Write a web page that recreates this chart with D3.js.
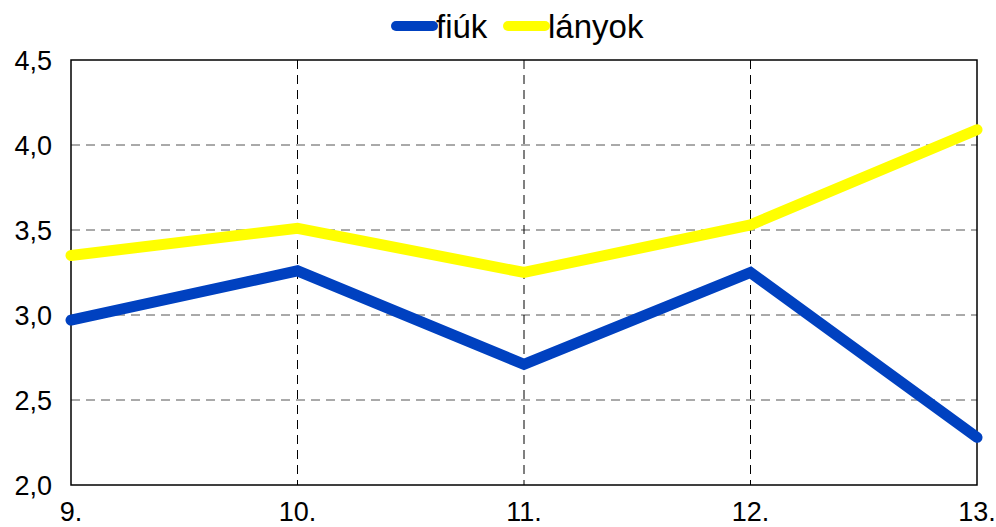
<!DOCTYPE html>
<html>
<head>
<meta charset="utf-8">
<script src="https://cdn.jsdelivr.net/npm/d3@7"></script>
<style>
    body { margin: 0; background: #fff; }
    svg { font-family: "Liberation Sans", Arial, sans-serif; }
</style>
</head>
<body>
<svg width="996" height="527"></svg>
<script>
const categories = ["9.", "10.", "11.", "12.", "13."];
const fiuk = [2.97, 3.26, 2.71, 3.25, 2.28];
const lanyok = [3.35, 3.51, 3.25, 3.53, 4.09];
const yTicks = [2.0, 2.5, 3.0, 3.5, 4.0, 4.5];

const series = [
    { name: "fiúk", values: fiuk, color: "#0041C0" },
    { name: "lányok", values: lanyok, color: "#FFFF00" }
];

const margin = { top: 60, right: 19, bottom: 42, left: 71 };
const width = 996, height = 527;

const svg = d3.select("svg");

const x = d3.scalePoint()
    .domain(categories)
    .range([margin.left, width - margin.right]);

const y = d3.scaleLinear()
    .domain([2, 4.5])
    .range([height - margin.bottom, margin.top]);

const fmt = d => d3.format(".1f")(d).replace(".", ",");

// horizontal grid
svg.append("g")
    .selectAll("line")
    .data(yTicks.slice(1, -1))
    .join("line")
    .attr("x1", margin.left)
    .attr("x2", width - margin.right)
    .attr("y1", d => y(d))
    .attr("y2", d => y(d))
    .attr("stroke", "#555")
    .attr("stroke-width", 1)
    .attr("stroke-dasharray", "9,6");

// vertical grid
svg.append("g")
    .selectAll("line")
    .data(categories.slice(1, -1))
    .join("line")
    .attr("x1", d => x(d))
    .attr("x2", d => x(d))
    .attr("y1", margin.top)
    .attr("y2", height - margin.bottom)
    .attr("stroke", "#000")
    .attr("stroke-width", 1)
    .attr("stroke-dasharray", "9,6");

// plot frame
svg.append("rect")
    .attr("x", margin.left)
    .attr("y", margin.top)
    .attr("width", width - margin.left - margin.right)
    .attr("height", height - margin.top - margin.bottom)
    .attr("fill", "none")
    .attr("stroke", "#000")
    .attr("stroke-width", 1.5);

// y axis labels
svg.append("g")
    .selectAll("text")
    .data(yTicks)
    .join("text")
    .attr("x", 52)
    .attr("y", d => y(d))
    .attr("dy", "0.36em")
    .attr("text-anchor", "end")
    .attr("font-size", 27)
    .text(fmt);

// x axis labels
svg.append("g")
    .selectAll("text")
    .data(categories)
    .join("text")
    .attr("x", d => x(d))
    .attr("y", 521)
    .attr("text-anchor", "middle")
    .attr("font-size", 27)
    .text(d => d);

// lines
const line = d3.line()
    .x((d, i) => x(categories[i]))
    .y(d => y(d));

svg.append("g")
    .selectAll("path")
    .data(series)
    .join("path")
    .attr("d", s => line(s.values))
    .attr("fill", "none")
    .attr("stroke", s => s.color)
    .attr("stroke-width", 11)
    .attr("stroke-linecap", "round")
    .attr("stroke-linejoin", "miter");

// legend
const legend = svg.append("g");
const legendItems = [
    { s: series[0], x0: 396 },
    { s: series[1], x0: 508 }
];
legendItems.forEach(({ s, x0 }) => {
    legend.append("line")
        .attr("x1", x0)
        .attr("x2", x0 + 37)
        .attr("y1", 26)
        .attr("y2", 26)
        .attr("stroke", s.color)
        .attr("stroke-width", 10)
        .attr("stroke-linecap", "round");
    legend.append("text")
        .attr("x", x0 + 40)
        .attr("y", 38)
        .attr("font-size", 33)
        .text(s.name);
});
</script>
</body>
</html>
